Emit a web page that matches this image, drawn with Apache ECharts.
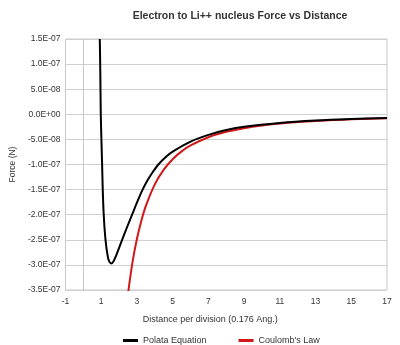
<!DOCTYPE html>
<html>
<head>
<meta charset="utf-8">
<script src="https://cdn.jsdelivr.net/npm/echarts@6/dist/echarts.min.js"></script>
<style>
html,body{margin:0;padding:0;background:#fff;}
#chart{width:400px;height:345px;}
</style>
</head>
<body>
<div id="chart"></div>
<script>
// Polata Equation: [distance, force]
var polataX = [0.92, 0.95, 0.975, 1.01, 1.05, 1.085, 1.14, 1.24, 1.37, 1.46, 1.57, 1.70, 1.85, 2.0, 2.17, 2.45, 2.75, 3.0, 3.29, 3.57, 3.85, 4.2, 4.6, 5.0, 6.0, 7.0, 8.0, 9.0, 11.0, 13.0, 15.0, 17.0];
var polataY = [1.5e-7, 8e-8, 0, -5e-8, -1.0e-7, -1.5e-7, -2.0e-7, -2.5e-7, -2.84e-7, -2.94e-7, -2.97e-7, -2.92e-7, -2.8e-7, -2.66e-7, -2.5e-7, -2.245e-7, -1.98e-7, -1.76e-7, -1.52e-7, -1.33e-7, -1.17e-7, -1.0e-7, -8.56e-8, -7.44e-8, -5.44e-8, -4.09e-8, -3.14e-8, -2.48e-8, -1.72e-8, -1.25e-8, -9.55e-9, -7.5e-9];
// Coulomb's Law: [distance, force]
var coulombX = [2.5, 2.75, 3.0, 3.25, 3.5, 4.0, 4.5, 5.0, 5.5, 6.0, 7.0, 8.0, 9.0, 10.0, 11.0, 12.0, 13.0, 14.0, 15.0, 16.0, 17.0];
var coulombY = [-3.57e-7, -2.95e-7, -2.48e-7, -2.115e-7, -1.824e-7, -1.396e-7, -1.103e-7, -8.94e-8, -7.39e-8, -6.21e-8, -4.56e-8, -3.49e-8, -2.76e-8, -2.23e-8, -1.85e-8, -1.55e-8, -1.32e-8, -1.14e-8, -9.9e-9, -8.7e-9, -7.7e-9];
// tick labels
var xTickLabels = ['-1', '1', '3', '5', '7', '9', '11', '13', '15', '17'];
var yTickLabels = ['-3.5E-07', '-3.0E-07', '-2.5E-07', '-2.0E-07', '-1.5E-07', '-1.0E-07', '-5.0E-08', '0.0E+00', '5.0E-08', '1.0E-07', '1.5E-07'];
var seriesNames = ['Polata Equation', "Coulomb's Law"];

function pairs(xs, ys) { return xs.map(function (x, i) { return [x, ys[i]]; }); }

var chart = echarts.init(document.getElementById('chart'), null, { renderer: 'canvas' });
var font = 'Liberation Sans, Arial, sans-serif';
chart.setOption({
  animation: false,
  backgroundColor: '#fff',
  title: {
    text: 'Electron to Li++ nucleus Force vs Distance',
    left: 235, top: 6, textAlign: 'center',
    textStyle: { fontFamily: font, fontSize: 10.5, fontWeight: 'bold', color: '#333' }
  },
  legend: {
    left: 118, top: 331, icon: 'rect',
    itemWidth: 15, itemHeight: 3, itemGap: 32,
    textStyle: { fontFamily: font, fontSize: 9, color: '#333' },
    data: seriesNames
  },
  grid: { left: 65, right: 13, top: 39, bottom: 55, show: true, borderColor: '#c8c8c8', borderWidth: 1 },
  xAxis: {
    type: 'value', min: -1, max: 17, interval: 2,
    name: 'Distance per division (0.176 Ang.)', nameLocation: 'middle', nameGap: 25,
    nameTextStyle: { fontFamily: font, fontSize: 9, color: '#333', padding: [0, 32, 0, 0] },
    axisLine: { show: false }, axisTick: { show: false }, splitLine: { show: false },
    axisLabel: {
      margin: 7, fontFamily: font, fontSize: 8.5, color: '#333',
      formatter: function (v, i) { return xTickLabels[i]; }
    }
  },
  yAxis: {
    type: 'value', min: -3.5e-7, max: 1.5e-7, interval: 5e-8,
    name: 'Force (N)', nameLocation: 'middle', nameGap: 48,
    nameTextStyle: { fontFamily: font, fontSize: 8.5, color: '#333' },
    axisLine: { show: false }, axisTick: { show: false },
    splitLine: { show: true, lineStyle: { color: '#d0d0d0', width: 1 } },
    axisLabel: {
      margin: 5, fontFamily: font, fontSize: 8.5, color: '#333',
      formatter: function (v, i) { return yTickLabels[i]; }
    }
  },
  series: [
    {
      name: seriesNames[0], type: 'line', data: pairs(polataX, polataY),
      symbol: 'none', smooth: 0.3, clip: true,
      lineStyle: { color: '#000', width: 2 }, itemStyle: { color: '#000' },
      markLine: {
        silent: true, symbol: 'none', label: { show: false },
        lineStyle: { color: '#c8c8c8', width: 1, type: 'solid' },
        data: [{ xAxis: 0 }]
      },
      z: 3
    },
    {
      name: seriesNames[1], type: 'line', data: pairs(coulombX, coulombY),
      symbol: 'none', smooth: 0.3, clip: true,
      lineStyle: { color: '#d01818', width: 2 }, itemStyle: { color: '#d01818' },
      z: 2
    }
  ]
});
</script>
</body>
</html>
